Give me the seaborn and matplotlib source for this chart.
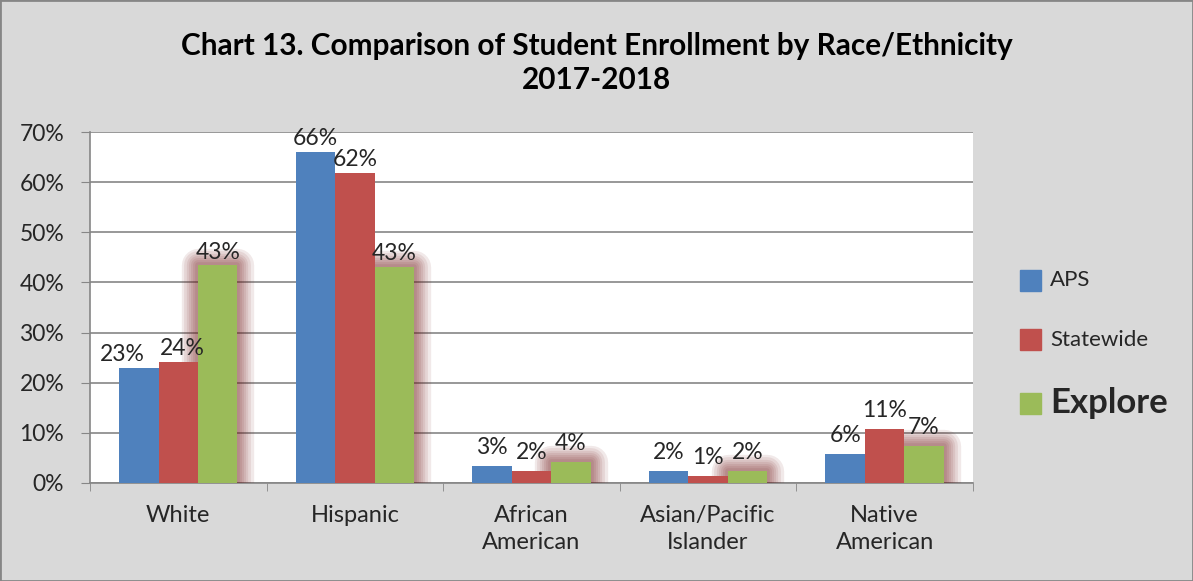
import pandas as pd
import matplotlib.pyplot as plt
import matplotlib.patheffects as pe
import seaborn as sns

# Dados do gráfico
categories = ["White", "Hispanic", "African\nAmerican", "Asian/Pacific\nIslander", "Native\nAmerican"]
series = ["APS", "Statewide", "Explore"]
aps = [22.9, 66.0, 3.4, 2.4, 5.7]
statewide = [24.1, 61.9, 2.4, 1.4, 10.8]
explore = [43.4, 43.1, 4.2, 2.4, 7.4]
colors = ["#4f81bd", "#c0504d", "#9bbb59"]

df = pd.DataFrame({
    "category": categories * 3,
    "series": [s for s in series for _ in categories],
    "value": aps + statewide + explore,
})

sns.set_style("white")
plt.rcParams["font.family"] = ["Lato", "DejaVu Sans"]

fig = plt.figure(figsize=(11.93, 5.81), dpi=100, facecolor="#d9d9d9")
ax = fig.add_axes([0.0754, 0.1687, 0.7401, 0.6041])
ax.set_facecolor("white")

sns.barplot(data=df, x="category", y="value", hue="series", palette=colors,
            width=0.67, gap=0, saturation=1, ax=ax, legend=False, zorder=3)

# brilho avermelhado nas barras do Explore
glow = [pe.Stroke(linewidth=w, foreground="#6e1616", alpha=0.09, joinstyle="round")
        for w in (24, 20, 16, 13, 10, 7, 4)]
n = len(categories)
for i, bar in enumerate(ax.patches):
    if i >= 2 * n:
        bar.set_path_effects(glow + [pe.Normal()])
        bar.set_zorder(4)
    else:
        bar.set_zorder(5)
    bar.set_edgecolor("none")

# rótulos de dados (pequeno deslocamento para evitar sobreposição)
nudge = {0: -12, 5: 3}
for i, bar in enumerate(ax.patches):
    h = bar.get_height()
    ax.annotate(f"{round(h):.0f}%", (bar.get_x() + bar.get_width() / 2, h),
                xytext=(nudge.get(i, 0), 2 if h > 20 else 6), textcoords="offset points",
                ha="center", va="bottom", fontsize=16.5, zorder=6)

ax.set_ylim(0, 70)
ax.set_xlim(-0.5, n - 0.5)
ax.set_yticks(range(0, 71, 10))
ax.set_yticklabels([f"{v}%" for v in range(0, 71, 10)], fontsize=16.5)
ax.set_xticks(range(n))
ax.set_xticklabels(categories, fontsize=17, linespacing=1.35)
ax.tick_params(axis="x", length=0, pad=16)
ax.tick_params(axis="y", length=6.5, color="#868686", direction="out", left=True, pad=12)
ax.set_xticks([i + 0.5 for i in range(-1, n)], minor=True)
ax.tick_params(axis="x", which="minor", length=6, color="#868686", direction="out", bottom=True)
ax.yaxis.grid(True, color="#868686", linewidth=1.2, zorder=0)
ax.set_axisbelow(True)
ax.set_xlabel("")
ax.set_ylabel("")
for side in ["top", "right"]:
    ax.spines[side].set_visible(False)
for side in ["left", "bottom"]:
    ax.spines[side].set_color("#868686")
    ax.spines[side].set_linewidth(1.2)

fig.text(0.5, 0.92, "Chart 13. Comparison of Student Enrollment by Race/Ethnicity",
         ha="center", va="center", fontsize=21.4, fontweight="bold", color="black")
fig.text(0.5, 0.863, "2017-2018", ha="center", va="center", fontsize=21.4,
         fontweight="bold", color="black")

# legenda manual
leg_y = [0.518, 0.415, 0.306]
for s, c, y in zip(series, colors, leg_y):
    fig.patches.append(plt.Rectangle((1020 / 1193, y - 0.018), 21 / 1193, 21 / 581,
                                     transform=fig.transFigure, color=c, figure=fig))
    bold = s == "Explore"
    fig.text(1050 / 1193, y, s, ha="left", va="center",
             fontsize=25 if bold else 16, fontweight="bold" if bold else "normal")

fig.patches.append(plt.Rectangle((0, 0), 1, 1, transform=fig.transFigure, fill=False,
                                 edgecolor="#868686", linewidth=2, figure=fig))

fig.savefig("out.png", dpi=100, facecolor=fig.get_facecolor())
